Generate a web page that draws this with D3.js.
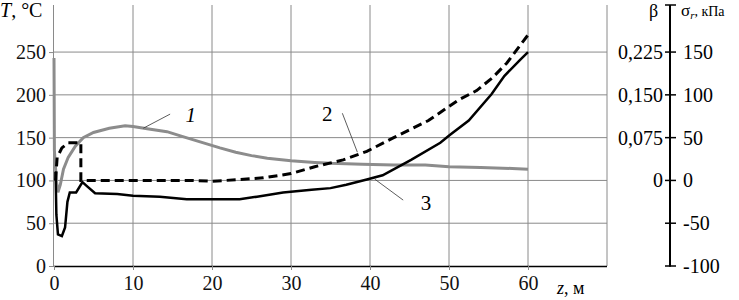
<!DOCTYPE html>
<html>
<head>
<meta charset="utf-8">
<script src="https://cdn.jsdelivr.net/npm/d3@7"></script>
<style>
	body { margin: 0; background: #fff; }
	svg { display: block; }
</style>
</head>
<body>
<div id="wrapper"></div>
<script>
// curve 1 - temperature (gray)
const curve1 = [
	[0, 243], [0.05, 135], [0.3, 100], [0.5, 86], [0.8, 95], [1.2, 113], [1.8, 127],
	[2.7, 140], [3.7, 150], [5, 156], [7, 161], [9, 164], [10, 163], [12, 160],
	[14.3, 157], [16, 152], [18.5, 145], [21, 138], [23, 133], [25, 129], [27, 126],
	[30, 123], [33, 121], [35, 120], [39, 119], [43, 118], [47, 118], [50, 116],
	[54, 115], [58, 114], [60, 113]
];
// curve 2 - dashed
const curve2 = [
	[0.2, 100], [0.4, 127], [1, 138], [1.8, 144], [3.4, 144], [3.4, 100], [10, 100],
	[17.5, 100], [20, 99], [23.5, 101], [26.5, 103], [30, 108], [33, 116], [36.6, 124],
	[39.6, 134], [43, 150], [47.4, 170], [51.2, 194], [53.5, 205], [55.5, 220],
	[57.3, 237], [60, 270]
];
// curve 3 - solid black
const curve3 = [
	[0.2, 110], [0.3, 60], [0.5, 37], [1, 35], [1.4, 45], [1.7, 75], [2, 86], [2.8, 86],
	[3.6, 98], [4.2, 93], [5.2, 85], [8, 84], [10, 82], [13.4, 81], [16.8, 78], [20, 78],
	[23.5, 78], [25.7, 81], [29, 86], [32.6, 89], [35, 91], [37, 95], [39.6, 101],
	[41.6, 106], [45.2, 124], [48.9, 144], [50.1, 153], [52.5, 170], [55.4, 201],
	[57, 222], [59, 241], [60, 250]
];

const xTicks = [0, 10, 20, 30, 40, 50, 60];
const tTicks = [0, 50, 100, 150, 200, 250];
const sigmaTicks = [-100, -50, 0, 50, 100, 150];
const betaTicks = ["0", "0,075", "0,150", "0,225"];

// curve numbers: text position and leader line (z, T)
const labels = [
	{ text: "1", italic: true, pos: [17.3, 177], from: [14.7, 177.5], to: [11.3, 161] },
	{ text: "2", italic: false, pos: [34.6, 178], from: [36.5, 178.5], to: [38.4, 133] },
	{ text: "3", italic: false, pos: [47.1, 74], from: [40.6, 101.5], to: [44.2, 77] }
];

const serif = "'Liberation Serif'";
const width = 739;
const height = 300;

const svg = d3.select("#wrapper")
	.append("svg")
	.attr("width", width)
	.attr("height", height);

const x = d3.scaleLinear().domain([0, 70]).range([54, 607]);
const y = d3.scaleLinear().domain([0, 305]).range([266, 5]);
const ySigma = d3.scaleLinear().domain([-100, 205]).range([266, 5]);

const gridColor = "#8a8a8a";

// grid
svg.append("g").selectAll("line")
	.data(tTicks.slice(1))
	.enter().append("line")
	.attr("x1", x(0)).attr("x2", x(70))
	.attr("y1", d => y(d)).attr("y2", d => y(d))
	.attr("stroke", gridColor).attr("stroke-width", 1);

svg.append("g").selectAll("line")
	.data(xTicks.slice(1).concat([70]))
	.enter().append("line")
	.attr("x1", d => x(d)).attr("x2", d => x(d))
	.attr("y1", y(0)).attr("y2", y(305))
	.attr("stroke", gridColor).attr("stroke-width", 1);

// left axis
const leftAxis = svg.append("g")
	.attr("transform", `translate(${x(0)},0)`)
	.call(d3.axisLeft(y).tickValues(tTicks).tickSize(5).tickPadding(3));
leftAxis.select(".domain").attr("stroke", gridColor).attr("d", `M-0.5,${y(0)}V${y(305)}`);
leftAxis.selectAll(".tick line").attr("stroke", gridColor);
leftAxis.selectAll("text").attr("font-size", 20).attr("fill", "#111");

// bottom axis
const bottomAxis = svg.append("g")
	.attr("transform", `translate(0,${y(0)})`)
	.call(d3.axisBottom(x).tickValues(xTicks).tickSize(4).tickPadding(6));
bottomAxis.select(".domain").attr("stroke", "#000").attr("stroke-width", 1.5)
	.attr("d", `M${x(0)},0.5H${x(70)}`);
bottomAxis.selectAll(".tick line").attr("stroke", gridColor);
bottomAxis.selectAll("text").attr("font-size", 20).attr("fill", "#111");

// curves
const line = d3.line().x(d => x(d[0])).y(d => y(d[1]));

svg.append("path").datum(curve1)
	.attr("d", line).attr("fill", "none")
	.attr("stroke", "#8c8c8c").attr("stroke-width", 3);

svg.append("path").datum(curve3)
	.attr("d", line).attr("fill", "none")
	.attr("stroke", "#000").attr("stroke-width", 2.5);

svg.append("path").datum(curve2)
	.attr("d", line).attr("fill", "none")
	.attr("stroke", "#000").attr("stroke-width", 3)
	.attr("stroke-dasharray", "9,5");

// curve labels
labels.forEach(l => {
	svg.append("line")
		.attr("x1", x(l.from[0])).attr("y1", y(l.from[1]))
		.attr("x2", x(l.to[0])).attr("y2", y(l.to[1]))
		.attr("stroke", "#333").attr("stroke-width", 0.8);
	svg.append("text")
		.attr("x", x(l.pos[0])).attr("y", y(l.pos[1]) + 7)
		.attr("font-size", 21).attr("font-style", l.italic ? "italic" : "normal")
		.attr("text-anchor", "middle")
		.text(l.text);
});

// right axis (beta / sigma)
const axisX = 670;
const rightAxis = svg.append("g")
	.attr("transform", `translate(${axisX},0)`);
rightAxis.append("line")
	.attr("x1", 0).attr("x2", 0)
	.attr("y1", ySigma(-101)).attr("y2", ySigma(205))
	.attr("stroke", "#000").attr("stroke-width", 2);
rightAxis.selectAll(".tk")
	.data(sigmaTicks.concat([205]))
	.enter().append("line")
	.attr("class", "tk")
	.attr("x1", -5).attr("x2", 6)
	.attr("y1", d => ySigma(d)).attr("y2", d => ySigma(d))
	.attr("stroke", "#000").attr("stroke-width", 1.5);
rightAxis.selectAll(".sig")
	.data(sigmaTicks)
	.enter().append("text")
	.attr("class", "sig")
	.attr("x", 13).attr("y", d => ySigma(d) + 7)
	.attr("font-size", 20)
	.text(d => d);
rightAxis.selectAll(".beta")
	.data(betaTicks)
	.enter().append("text")
	.attr("class", "beta")
	.attr("x", -7).attr("y", (d, i) => ySigma(i * 50) + 7)
	.attr("font-size", 20).attr("text-anchor", "end")
	.text(d => d);

// axis titles
const tTitle = svg.append("text").attr("x", 0).attr("y", 17).attr("font-size", 20);
tTitle.append("tspan").attr("font-style", "italic").text("T");
tTitle.append("tspan").text(", °C");

const zTitle = svg.append("text").attr("x", 557).attr("y", 294).attr("font-size", 18);
zTitle.append("tspan").attr("font-style", "italic").text("z");
zTitle.append("tspan").text(", м");

svg.append("text").attr("x", 649).attr("y", 17).attr("font-size", 18).text("β");
const sTitle = svg.append("text").attr("x", 681).attr("y", 16).attr("font-size", 17);
sTitle.append("tspan").text("σ");
sTitle.append("tspan").attr("font-size", 11).attr("dy", 3).attr("font-style", "italic").text("r");
sTitle.append("tspan").attr("font-size", 14).attr("dy", -3).text(", кПа");

// serif face for every text
svg.selectAll("text").style("font-family", serif);
</script>
</body>
</html>
